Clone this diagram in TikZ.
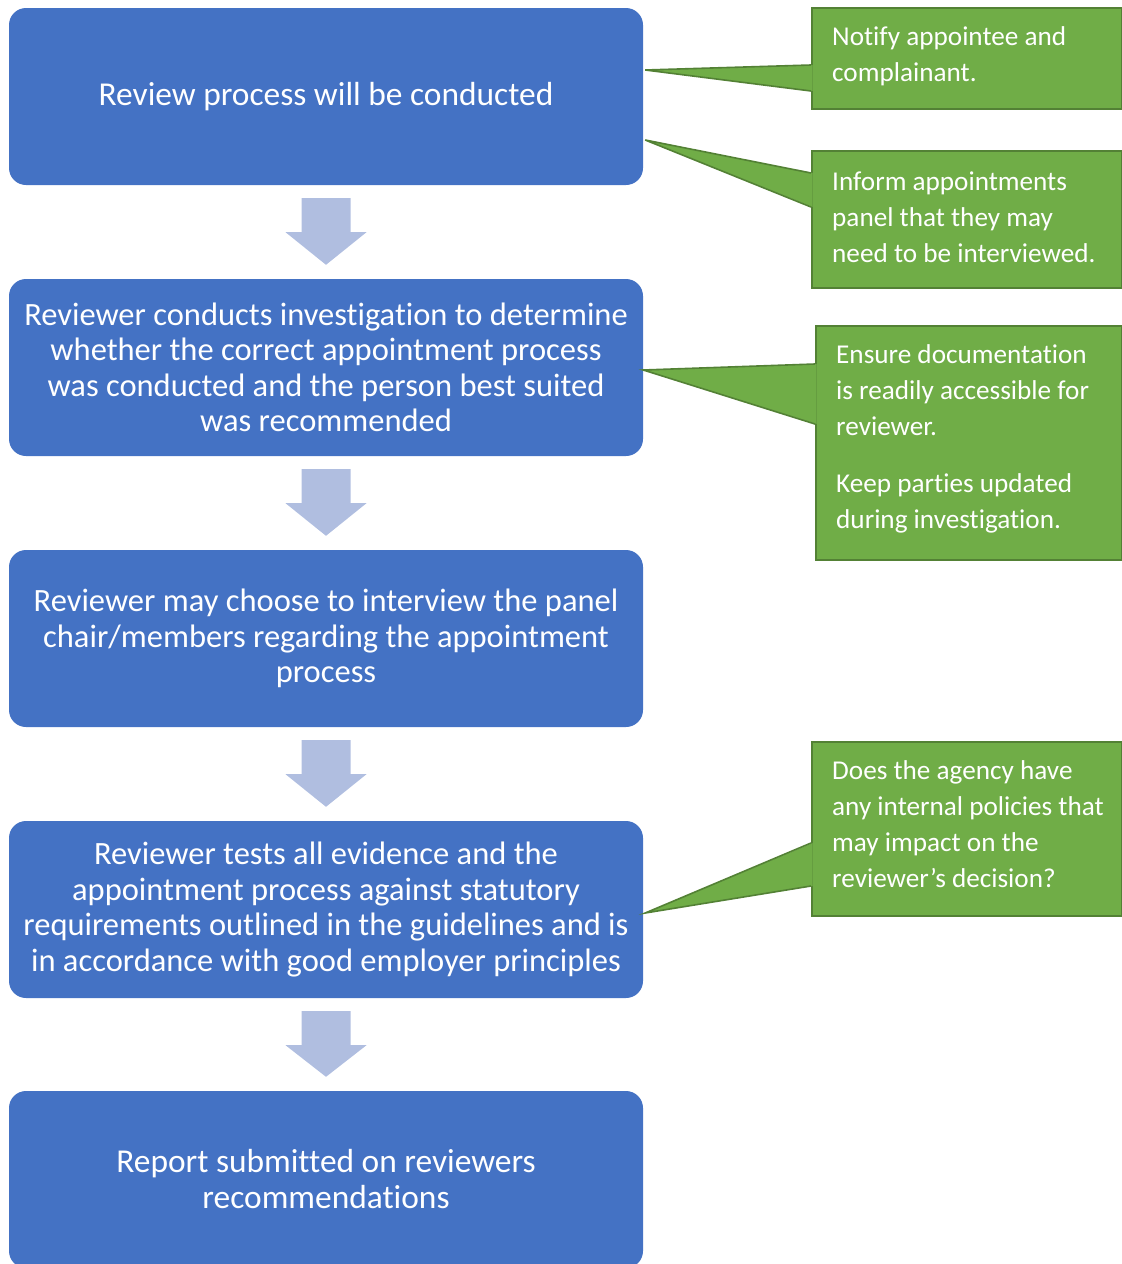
\documentclass[tikz,border=0pt]{standalone}
\usepackage{fontspec}
\setmainfont{Carlito}[Ligatures=NoCommon]
\usetikzlibrary{calc}
\definecolor{boxblue}{HTML}{4472C4}
\definecolor{arrowblue}{HTML}{B0BEE0}
\definecolor{callgreen}{HTML}{70AD47}
\definecolor{callborder}{HTML}{538135}
\tikzset{
  x=1pt,y=-1pt,
  stepbox/.style={fill=boxblue, draw=none, rounded corners=17pt, minimum width=634pt, minimum height=177pt, text=white, align=center, font=\fontsize{32.5}{35.5}\selectfont, inner sep=0pt},
  bigtext/.style={font=\fontsize{33.4}{36}\selectfont},
  notebox/.style={fill=callgreen, draw=callborder, line width=1.6pt, inner sep=0pt, anchor=north west},
  notetext/.style={text=white, align=left, font=\fontsize{27.2}{36}\selectfont, inner sep=0pt, anchor=west},
  pointer/.style={fill=callgreen, draw=none},
  pointeredge/.style={draw=callborder, line width=1.6pt, line join=miter},
  downarrow/.style={fill=arrowblue, draw=none}
}
\begin{document}
\begin{tikzpicture}
\useasboundingbox (0,0) rectangle (1122,1264);
% step boxes
\node[stepbox, bigtext] (b1) at (326,96.5) {Review process will be conducted};
\node[stepbox] (b2) at (326,367.5) {Reviewer conducts investigation to determine\\whether the correct appointment process\\was conducted and the person best suited\\was recommended};
\node[stepbox] (b3) at (326,638.5) {Reviewer may choose to interview the panel\\chair/members regarding the appointment\\process};
\node[stepbox] (b4) at (326,909.5) {Reviewer tests all evidence and the\\appointment process against statutory\\requirements outlined in the guidelines and is\\in accordance with good employer principles};
\node[stepbox, bigtext] (b5) at (326,1179.5) {Report submitted on reviewers\\recommendations};
% block arrows between steps
\foreach \a/\b in {b1/b2,b2/b3,b3/b4,b4/b5}{
  \fill[downarrow] ($(\a.south)+(-24.5,13)$) -- ($(\a.south)+(24.5,13)$) -- ($(\a.south)+(24.5,47)$) -- ($(\a.south)+(40.5,47)$) -- ($(\b.north)+(0,-14)$) -- ($(\a.south)+(-40.5,47)$) -- ($(\a.south)+(-24.5,47)$) -- cycle;
}
% callouts
\node[notebox, minimum width=310pt, minimum height=101pt] (c1) at (811,7) {};
\node[notetext] (c1t) at ($(c1.west)+(21,-2.5)$) {Notify appointee and\\complainant.};
\coordinate (t1) at ($(b1.east|-0,70)+(2,0)$);
\fill[pointer] (812.6,65) -- (t1) -- (812.6,91) -- cycle;
\draw[pointeredge] (811,65) -- (t1) -- (811,91);

\node[notebox, minimum width=310pt, minimum height=137pt] (c2) at (811,150) {};
\node[notetext] (c2t) at ($(c2.west)+(21,-2.5)$) {Inform appointments\\panel that they may\\need to be interviewed.};
\coordinate (t2) at ($(b1.east|-0,140)+(2,0)$);
\fill[pointer] (812.6,173) -- (t2) -- (812.6,207) -- cycle;
\draw[pointeredge] (811,173) -- (t2) -- (811,207);

\node[notebox, minimum width=306pt, minimum height=234pt] (c3) at (815,325) {};
\node[notetext] (c3t) at ($(c3.west)+(21,-4)$) {Ensure documentation\\is readily accessible for\\reviewer.\\[21pt]Keep parties updated\\during investigation.};
\coordinate (t3) at ($(b2.east|-0,370)+(0,0)$);
\fill[pointer] (816.6,364) -- (t3) -- (816.6,424) -- cycle;
\draw[pointeredge] (815,364) -- (t3) -- (815,424);

\node[notebox, minimum width=310pt, minimum height=174pt] (c4) at (811,741) {};
\node[notetext] (c4t) at ($(c4.west)+(21,-5)$) {Does the agency have\\any internal policies that\\may impact on the\\reviewer’s decision?};
\coordinate (t4) at ($(b4.east|-0,913)+(2,0)$);
\fill[pointer] (812.6,843) -- (t4) -- (812.6,886) -- cycle;
\draw[pointeredge] (811,843) -- (t4) -- (811,886);
\end{tikzpicture}
\end{document}
